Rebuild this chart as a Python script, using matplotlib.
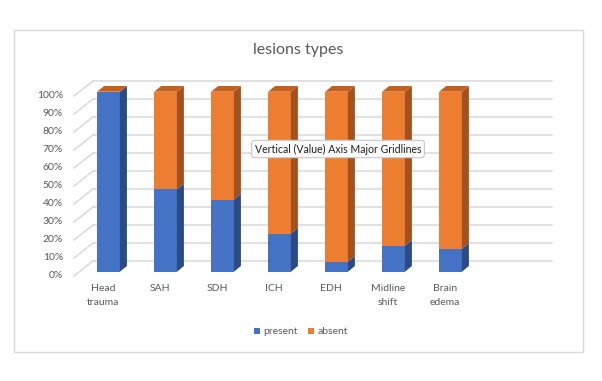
import matplotlib
matplotlib.use("Agg")
import matplotlib.pyplot as plt
from matplotlib.patches import Polygon, Rectangle, Patch
from matplotlib.transforms import Affine2D, IdentityTransform
from matplotlib.lines import Line2D
import numpy as np

plt.rcParams['font.family'] = ['Lato', 'DejaVu Sans']

# ---- data ----
categories = ["Head\ntrauma", "SAH", "SDH", "ICH", "EDH", "Midline\nshift", "Brain\nedema"]
present = [1.00, 0.457, 0.40, 0.212, 0.055, 0.144, 0.127]
absent = [0.00, 0.543, 0.60, 0.788, 0.945, 0.856, 0.873]
tick_values = [0.0, 0.1, 0.2, 0.3, 0.4, 0.5, 0.6, 0.7, 0.8, 0.9, 1.0]
tick_labels = ["0%", "10%", "20%", "30%", "40%", "50%", "60%", "70%", "80%", "90%", "100%"]
series_names = ["present", "absent"]
title = "lesions types"
tooltip = "Vertical (Value) Axis Major Gridlines"

# ---- style / layout (pixels) ----
W, H = 602, 381
text_col = "#595959"
grid_col = "#D9D9D9"
blue_front, blue_side = "#4472C4", "#2B4B86"
orange_front, orange_side, orange_top = "#ED7D31", "#A3521F", "#C4601D"
wall_right_px = 552

fig = plt.figure(figsize=(W / 100, H / 100), dpi=100)
fig.patch.set_facecolor("white")
ident = IdentityTransform()

# chart border
fig.add_artist(Rectangle((14, H - 352), 583 - 14, 352 - 30, transform=ident,
                         fill=False, ec="#D9D9D9", lw=1.0))

ax = fig.add_axes([74 / W, 105 / H, 459 / W, 180 / H])
ax.set_xlim(-0.509, 7.544)
ax.set_ylim(0, 1)
ax.set_autoscale_on(False)
ax.axis("off")

fig.canvas.draw()
T = ax.transData
left_px = ax.bbox.x0

# depth offsets (pixels)
wall_dx, wall_dy = 19, 15
bar_dx, bar_dy = 5.5, 4.3
side_dx, side_dy = 7, 5.7

# gridlines: back wall + left slant
for v, lab in zip(tick_values, tick_labels):
    yv = T.transform((0, v))[1]
    ax.add_line(Line2D([left_px, left_px + wall_dx], [yv, yv + wall_dy],
                       transform=ident, color=grid_col, lw=1.1, zorder=1, clip_on=False))
    ax.add_line(Line2D([left_px + wall_dx, wall_right_px],
                       [yv + wall_dy, yv + wall_dy],
                       transform=ident, color=grid_col, lw=1.1, zorder=1, clip_on=False))
    fig.text(left_px - 11, yv, lab, transform=ident, ha="right", va="center",
             fontsize=7.5, color=text_col)

# bars
width = 0.4
x = np.arange(len(categories))
bar_off = T + Affine2D().translate(bar_dx, bar_dy)
segments = [(present, [0] * len(present), blue_front, blue_side),
            (absent, present, orange_front, orange_side)]
for vals, bottoms, fc, sc in segments:
    bars = ax.bar(x, vals, width=width, bottom=bottoms, color=fc, lw=0, zorder=3)
    for b in bars:
        b.set_transform(bar_off)
        b.set_clip_on(False)
    for xi, v, b0 in zip(x, vals, bottoms):
        if v <= 0:
            continue
        a = T.transform((xi + width / 2, b0)) + (bar_dx, bar_dy)
        c = T.transform((xi + width / 2, b0 + v)) + (bar_dx, bar_dy)
        poly = Polygon([a, c, c + (side_dx, side_dy), a + (side_dx, side_dy)],
                       closed=True, transform=ident, fc=sc, lw=0, clip_on=False, zorder=3)
        ax.add_patch(poly)

# top faces
for xi, pv, qv in zip(x, present, absent):
    top = pv + qv
    lp = T.transform((xi - width / 2, top)) + (bar_dx, bar_dy)
    rp = T.transform((xi + width / 2, top)) + (bar_dx, bar_dy)
    ax.add_patch(Polygon([lp, rp, rp + (side_dx, side_dy), lp + (side_dx, side_dy)],
                         closed=True, transform=ident, fc=orange_top, lw=0,
                         clip_on=False, zorder=4))

# category labels
for xi, lab in zip(x, categories):
    cx = T.transform((xi, 0))[0]
    fig.text(cx, H - 284, lab, transform=ident, ha="center", va="top",
             fontsize=7.5, color=text_col, linespacing=1.75)

# title
fig.text(298 / W, 1 - 50 / H, title, ha="center", va="center",
         fontsize=11.5, color=text_col)

# legend
handles = [Patch(fc=blue_front, ec="none"), Patch(fc=orange_front, ec="none")]
fig.legend(handles, series_names, loc="center", bbox_to_anchor=(301 / W, 1 - 332 / H),
           ncol=2, frameon=False, fontsize=7.5, handlelength=0.6, handleheight=0.6,
           handletextpad=0.3, columnspacing=1.0, labelcolor=text_col)

# tooltip
fig.text(338 / W, 1 - 149 / H, tooltip, ha="center", va="center", fontsize=7.6,
         color="#222222",
         bbox=dict(boxstyle="round,pad=0.3", fc="#FAFAFA", ec="#C8C8C8", lw=0.8),
         zorder=10)

fig.savefig("out.png", dpi=100)
